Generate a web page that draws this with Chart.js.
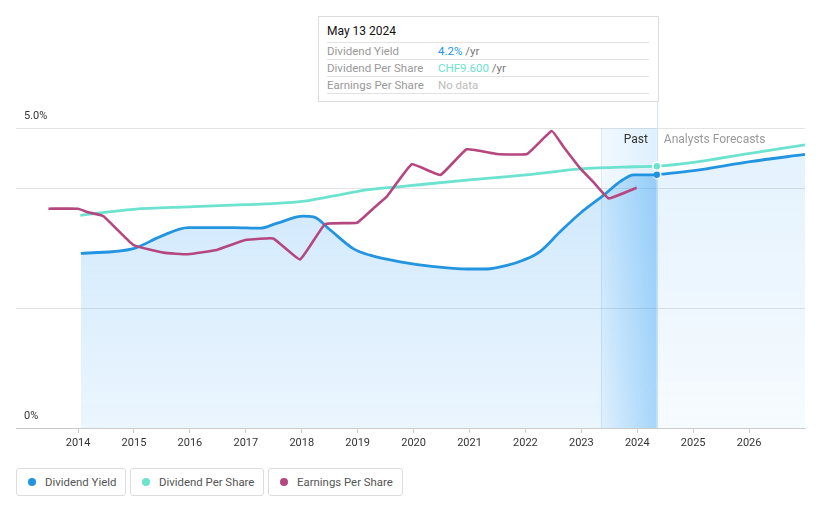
<!DOCTYPE html>
<html>
<head>
<meta charset="utf-8">
<script src="https://cdn.jsdelivr.net/npm/chart.js@4.4.1/dist/chart.umd.min.js"></script>
<style>
  body { margin: 0; background: #fff; font-family: Roboto, sans-serif; width: 821px; height: 508px; overflow: hidden; position: relative; }
  #wrap { position: absolute; left: 0; top: 0; width: 821px; height: 460px; }
  .tip { position: absolute; left: 318px; top: 16px; width: 341px; height: 86px; border: 1px solid #dcdcdc; background: #fff; box-sizing: border-box; z-index: 2; }
  .tip .date { position: absolute; left: 8px; top: 7px; font-size: 12px; color: #111; }
  .tip .row { position: absolute; left: 8px; width: 322px; height: 17px; border-top: 1px solid #e2e2e2; font-size: 11.5px; line-height: 17px; color: #999; }
  .tip .row span.v { position: absolute; left: 111px; }
  .tip .last { position: absolute; left: 8px; width: 322px; top: 76px; border-top: 1px solid #e2e2e2; }
  .legend { position: absolute; top: 468px; left: 16px; }
  .legend div { position: absolute; top: 0; height: 28px; border: 1px solid #ddd; border-radius: 3px; box-sizing: border-box; padding-left: 11px; font-size: 11.4px; color: #555; display: flex; align-items: center; }
  .legend i { display: inline-block; width: 8px; height: 8px; border-radius: 50%; margin-right: 9px; }
</style>
</head>
<body>
<div id="wrap"><canvas id="chart"></canvas></div>

<div class="tip">
  <div class="date">May 13 2024</div>
  <div class="row" style="top:25px">Dividend Yield<span class="v"><span style="color:#2394df">4.2%</span> <span style="color:#777">/yr</span></span></div>
  <div class="row" style="top:42px">Dividend Per Share<span class="v"><span style="color:#6de3cf">CHF9.600</span> <span style="color:#777">/yr</span></span></div>
  <div class="row" style="top:59px">Earnings Per Share<span class="v" style="color:#bbb">No data</span></div>
  <div class="last"></div>
</div>

<div class="legend">
  <div style="left:0;width:110px"><i style="background:#2394df"></i>Dividend Yield</div>
  <div style="left:114px;width:134px"><i style="background:#6de3cf"></i>Dividend Per Share</div>
  <div style="left:252px;width:135px"><i style="background:#b5467f"></i>Earnings Per Share</div>
</div>

<script>
// x values are decimal years
const xTicks = [2014, 2015, 2016, 2017, 2018, 2019, 2020, 2021, 2022, 2023, 2024, 2025, 2026];
const yTicks = [0, 2, 4, 5];

// Dividend yield (%), past
const yieldYears = [2014.05, 2014.99, 2015.47, 2015.97, 2016.78, 2017.26, 2017.55, 2018.03, 2018.21, 2018.51, 2018.92, 2019.22, 2019.76, 2020.36, 2020.95, 2021.31, 2021.67, 2021.97, 2022.26, 2022.62, 2022.98, 2023.40, 2023.70, 2023.94, 2024.35];
const yieldValues = [2.91, 2.99, 3.19, 3.34, 3.34, 3.33, 3.41, 3.53, 3.52, 3.30, 2.99, 2.88, 2.77, 2.69, 2.65, 2.65, 2.71, 2.80, 2.94, 3.27, 3.58, 3.88, 4.11, 4.22, 4.22];
// Dividend yield (%), analysts forecasts
const forecastYears = [2024.35, 2025.01, 2026.02, 2027.0];
const forecastYield = [4.22, 4.29, 4.44, 4.56];

// Dividend per share (CHF)
const dpsYears = [2014.04, 2014.99, 2015.97, 2016.99, 2017.97, 2018.57, 2019.16, 2019.76, 2020.95, 2022.15, 2022.98, 2023.94, 2024.35, 2025.01, 2026.02, 2027.0];
const dpsValues = [7.80, 8.02, 8.11, 8.19, 8.30, 8.51, 8.73, 8.85, 9.09, 9.31, 9.50, 9.58, 9.60, 9.74, 10.07, 10.38];

// Earnings per share (CHF)
const epsYears = [2013.47, 2014.0, 2014.18, 2014.45, 2014.99, 2015.53, 2015.97, 2016.48, 2016.99, 2017.49, 2017.97, 2018.42, 2018.99, 2019.28, 2019.52, 2019.97, 2020.48, 2020.95, 2021.49, 2022.03, 2022.47, 2022.68, 2022.98, 2023.21, 2023.49, 2023.99];
const epsValues = [14.62, 14.62, 14.38, 14.13, 12.2, 11.69, 11.58, 11.87, 12.53, 12.64, 11.24, 13.6, 13.69, 14.64, 15.42, 17.58, 16.87, 18.58, 18.27, 18.27, 19.8, 18.75, 17.31, 16.42, 15.31, 16.02];

const pastStart = 2023.35;
const nowYear = 2024.35;

const pts = (xs, ys) => xs.map((x, i) => ({ x: x, y: ys[i] }));

function vGrad(chart, top, bottom) {
  const a = chart.chartArea;
  if (!a) return null;
  const g = chart.ctx.createLinearGradient(0, a.top, 0, a.bottom);
  g.addColorStop(0, top);
  g.addColorStop(1, bottom);
  return g;
}

// Past band (light above the yield line, darker under it), hover line and labels
const pastBand = {
  id: 'pastBand',
  beforeDatasetsDraw(chart) {
    const { ctx, chartArea: a, scales: { x } } = chart;
    const x0 = x.getPixelForValue(pastStart);
    const x1 = x.getPixelForValue(nowYear);
    ctx.save();
    let g = ctx.createLinearGradient(x0, 0, x1, 0);
    g.addColorStop(0, 'rgba(33,150,243,0.06)');
    g.addColorStop(1, 'rgba(33,150,243,0.15)');
    ctx.fillStyle = g;
    ctx.fillRect(x0, a.top, x1 - x0, a.bottom - a.top);

    // darker part under the yield line
    const line = chart.getDatasetMeta(2).dataset;
    const p = chart.getDatasetMeta(2).data;
    line.updateControlPoints(a, 'x');
    ctx.save();
    ctx.beginPath();
    line.path(ctx);
    ctx.lineTo(p[p.length - 1].x, a.bottom);
    ctx.lineTo(p[0].x, a.bottom);
    ctx.closePath();
    ctx.clip();
    g = ctx.createLinearGradient(x0, 0, x1, 0);
    g.addColorStop(0, 'rgba(33,150,243,0.0)');
    g.addColorStop(1, 'rgba(33,150,243,0.22)');
    ctx.fillStyle = g;
    ctx.fillRect(x0, a.top, x1 - x0, a.bottom - a.top);
    ctx.restore();

    ctx.strokeStyle = 'rgba(33,150,243,0.12)';
    ctx.lineWidth = 1;
    ctx.beginPath();
    ctx.moveTo(Math.round(x0) + 0.5, a.top);
    ctx.lineTo(Math.round(x0) + 0.5, a.bottom);
    ctx.stroke();
    ctx.strokeStyle = '#d6e4f0';
    ctx.beginPath();
    ctx.moveTo(Math.round(x1) + 0.5, 100);
    ctx.lineTo(Math.round(x1) + 0.5, a.bottom);
    ctx.stroke();
    ctx.font = '12px Roboto, sans-serif';
    ctx.textBaseline = 'middle';
    ctx.textAlign = 'right';
    ctx.fillStyle = '#333';
    ctx.fillText('Past', x1 - 9, a.top + 12);
    ctx.textAlign = 'left';
    ctx.fillStyle = '#999';
    ctx.fillText('Analysts Forecasts', x1 + 7, a.top + 12);
    ctx.restore();
  }
};

const dot = (xs) => (c) => (xs[c.dataIndex] === nowYear ? 4 : 0);

new Chart(document.getElementById('chart'), {
  type: 'line',
  data: {
    datasets: [
      {
        label: 'Earnings Per Share',
        data: pts(epsYears, epsValues),
        yAxisID: 'yEps',
        borderColor: '#b5467f',
        borderWidth: 2.6,
        pointRadius: 0,
        tension: 0.1,
        fill: false
      },
      {
        label: 'Dividend Per Share',
        data: pts(dpsYears, dpsValues),
        yAxisID: 'yDps',
        borderColor: '#6de3cf',
        borderWidth: 2.8,
        cubicInterpolationMode: 'monotone',
        pointRadius: dot(dpsYears),
        pointBackgroundColor: '#6de3cf',
        pointBorderColor: '#fff',
        pointBorderWidth: 1.5,
        fill: false
      },
      {
        label: 'Dividend Yield',
        data: pts(yieldYears, yieldValues),
        yAxisID: 'y',
        borderColor: '#2394df',
        borderWidth: 2.8,
        cubicInterpolationMode: 'monotone',
        pointRadius: 0,
        fill: 'origin',
        backgroundColor: (c) => vGrad(c.chart, 'rgba(33,150,243,0.24)', 'rgba(33,150,243,0.09)')
      },
      {
        label: 'Dividend Yield forecast',
        data: pts(forecastYears, forecastYield),
        yAxisID: 'y',
        borderColor: '#2394df',
        borderWidth: 2.8,
        cubicInterpolationMode: 'monotone',
        pointRadius: dot(forecastYears),
        pointBackgroundColor: '#2394df',
        pointBorderColor: '#fff',
        pointBorderWidth: 1.5,
        fill: 'origin',
        backgroundColor: (c) => vGrad(c.chart, 'rgba(33,150,243,0.13)', 'rgba(33,150,243,0.04)')
      }
    ]
  },
  options: {
    responsive: true,
    maintainAspectRatio: false,
    animation: false,
    layout: { padding: { left: 16, right: 16, top: 128, bottom: 0 } },
    plugins: { legend: { display: false }, tooltip: { enabled: false } },
    scales: {
      x: {
        type: 'linear',
        min: 2012.89,
        max: 2027.0,
        afterBuildTicks: (s) => { s.ticks = xTicks.map(v => ({ value: v })); },
        afterFit: (s) => { s.height = 32; },
        grid: { drawOnChartArea: false, tickLength: 5, color: '#ccc' },
        border: { color: '#ccc' },
        ticks: { callback: (v) => String(v), color: '#333', font: { family: 'Roboto', size: 11 }, padding: 4, maxRotation: 0 }
      },
      y: {
        min: 0,
        max: 5,
        afterBuildTicks: (s) => { s.ticks = yTicks.map(v => ({ value: v })); },
        afterFit: (s) => { s.width = 0; },
        grid: { color: '#e4e4e4', drawTicks: false },
        border: { display: false },
        ticks: {
          mirror: true,
          padding: 8,
          labelOffset: -12,
          color: '#333',
          font: { family: 'Roboto', size: 11 },
          callback: (v) => (v === 5 ? '5.0%' : v === 0 ? '0%' : '')
        }
      },
      yDps: { display: false, min: 0, max: 11 },
      yEps: { display: false, min: 0, max: 20 }
    }
  },
  plugins: [pastBand]
});
</script>
</body>
</html>
